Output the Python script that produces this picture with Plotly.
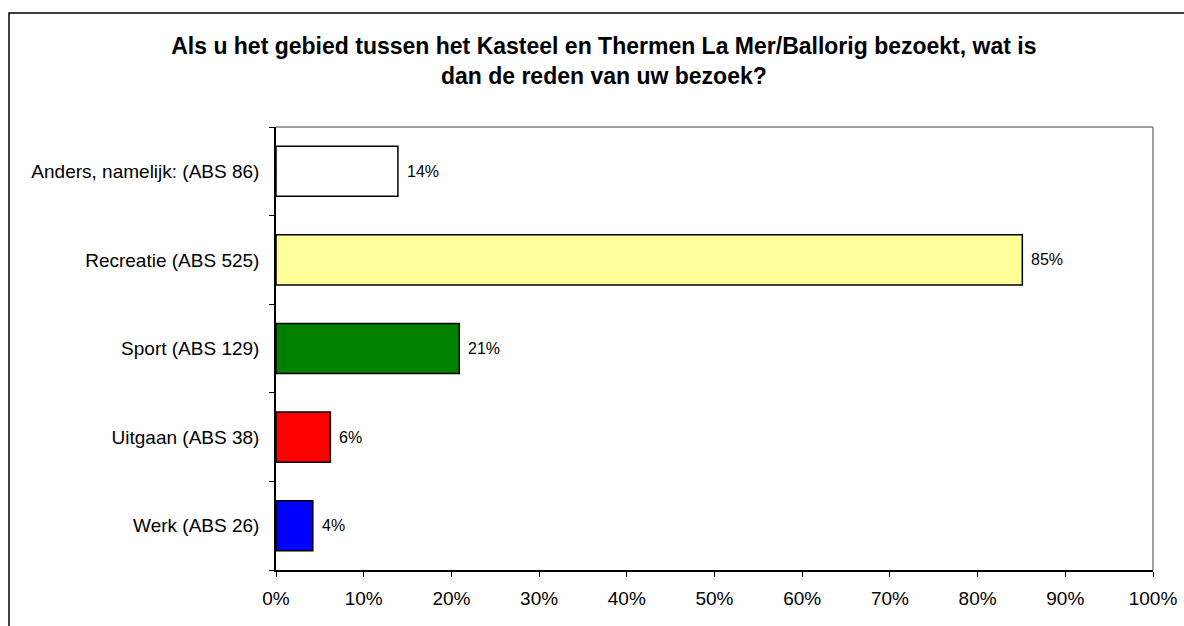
import plotly.graph_objects as go

categories = ["Werk (ABS 26)", "Uitgaan (ABS 38)", "Sport (ABS 129)",
              "Recreatie (ABS 525)", "Anders, namelijk: (ABS 86)"]
values = [4.2, 6.2, 20.9, 85.1, 13.9]
labels = ["4%", "6%", "21%", "85%", "14%"]
colors = ["#0000FF", "#FF0000", "#008000", "#FFFF99", "#FFFFFF"]
xticks = list(range(0, 101, 10))
xticklabels = [f"{t}%" for t in xticks]

title_text = ("<b>Als u het gebied tussen het Kasteel en Thermen La Mer/Ballorig bezoekt, wat is"
              "<br>dan de reden van uw bezoek?</b>")

FONT = "Liberation Sans, Arial"

fig = go.Figure()
fig.add_trace(go.Bar(
    x=values, y=categories, orientation="h",
    marker=dict(color=colors, line=dict(color="black", width=1.5)),
    width=0.565, hoverinfo="skip",
))

for v, c, t in zip(values, categories, labels):
    fig.add_annotation(x=v, y=c, text=t, showarrow=False, xanchor="left",
                       xshift=7, font=dict(size=16, color="black", family=FONT))

fig.update_layout(
    width=1184, height=626,
    margin=dict(l=276, r=31, t=127, b=56, autoexpand=False),
    paper_bgcolor="white", plot_bgcolor="white",
    showlegend=False,
    font=dict(family=FONT, color="black", size=19),
    title=dict(text=title_text, x=0.51, xanchor="center", y=0.913, yanchor="top",
               font=dict(size=23, family=FONT, color="black")),
    xaxis=dict(range=[0, 100], tickvals=xticks, ticktext=xticklabels,
               showgrid=False, zeroline=False, showline=True, linecolor="black",
               linewidth=1.5, ticks="outside", ticklen=5, tickcolor="black",
               ticklabelstandoff=5, tickfont=dict(size=19), automargin=False),
    yaxis=dict(type="category", categoryorder="array", categoryarray=categories,
               showgrid=False, zeroline=False, showline=True, linecolor="black",
               linewidth=1.5, ticks="outside", ticklen=5, tickcolor="black",
               tickson="boundaries", ticklabelstandoff=11, tickfont=dict(size=19),
               automargin=False),
    shapes=[
        dict(type="line", xref="paper", yref="paper", x0=0, x1=1, y0=1, y1=1,
             line=dict(color="#808080", width=1.5)),
        dict(type="line", xref="paper", yref="paper", x0=1, x1=1, y0=0, y1=1,
             line=dict(color="#808080", width=1.5)),
        dict(type="rect", xref="paper", yref="paper",
             x0=(9 - 276) / 877, x1=(1190 - 276) / 877,
             y0=(570 - 640) / 443, y1=(570 - 13) / 443,
             line=dict(color="black", width=1.5), fillcolor="rgba(0,0,0,0)",
             layer="below"),
    ],
)

fig.write_html("out.html", config={"displayModeBar": False},
               post_script="document.body.style.margin='0';document.body.style.overflow='hidden';")
